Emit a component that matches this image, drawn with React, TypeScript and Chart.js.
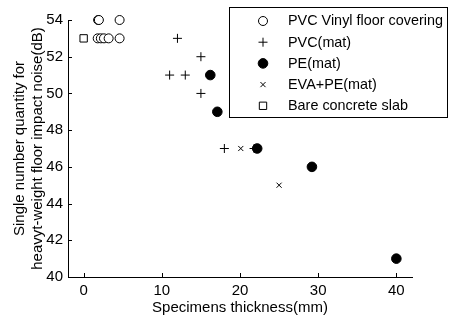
import React, { useEffect, useRef } from "react";
import { Chart, registerables } from "chart.js";
import { drawPoint } from "chart.js/helpers";

Chart.register(...registerables);

// Specimen thickness (mm) and single-number quantity (dB) per material group
const vinylThickness = [1.85, 1.95, 4.6, 1.8, 2.2, 2.6, 3.2, 4.6];
const vinylNoise = [54, 54, 54, 53, 53, 53, 53, 53];

const pvcMatThickness = [12, 15, 11, 13, 15, 18, 21.8];
const pvcMatNoise = [53, 52, 51, 51, 50, 47, 47];

const peMatThickness = [16.2, 17.1, 22.2, 29.2, 40];
const peMatNoise = [51, 49, 47, 46, 41];

const evaPeThickness = [20.1, 25];
const evaPeNoise = [47, 45];

const bareThickness = [0];
const bareNoise = [53];

const xTicks = [0, 10, 20, 30, 40];
const yTicks = [40, 42, 44, 46, 48, 50, 52, 54];

const seriesLabels = [
  "PVC Vinyl floor covering",
  "PVC(mat)",
  "PE(mat)",
  "EVA+PE(mat)",
  "Bare concrete slab",
];

const FONT = '"Liberation Sans", Arial, sans-serif';
const AXIS_FONT_SIZE = 15;
const LEGEND_FONT_SIZE = 14.4;

const toPoints = (xs: number[], ys: number[]) => xs.map((x, i) => ({ x, y: ys[i] }));

type MarkStyle = {
  pointStyle: string;
  radius: number;
  fill: string;
};

const markStyles: MarkStyle[] = [
  { pointStyle: "circle", radius: 4.5, fill: "#ffffff" },
  { pointStyle: "cross", radius: 4.5, fill: "#000000" },
  { pointStyle: "circle", radius: 4.8, fill: "#000000" },
  { pointStyle: "crossRot", radius: 3.6, fill: "#000000" },
  { pointStyle: "rect", radius: 5.2, fill: "#ffffff" },
];

// Inward tick marks on both axes
const innerTicksPlugin = {
  id: "innerTicks",
  afterDraw(chart: any) {
    const { ctx, chartArea, scales } = chart;
    ctx.save();
    ctx.strokeStyle = "#000";
    ctx.lineWidth = 1;
    ctx.beginPath();
    for (const v of yTicks) {
      const y = Math.round(scales.y.getPixelForValue(v)) + 0.5;
      ctx.moveTo(chartArea.left, y);
      ctx.lineTo(chartArea.left + 4, y);
    }
    for (const v of xTicks) {
      const x = Math.round(scales.x.getPixelForValue(v)) + 0.5;
      ctx.moveTo(x, chartArea.bottom);
      ctx.lineTo(x, chartArea.bottom - 4);
    }
    ctx.stroke();
    ctx.restore();
  },
};

// Boxed legend in the upper right corner
const boxLegendPlugin = {
  id: "boxLegend",
  afterDraw(chart: any) {
    const { ctx } = chart;
    const left = 229.5;
    const top = 7.5;
    const right = 447.5;
    const bottom = 117.5;
    ctx.save();
    ctx.fillStyle = "#fff";
    ctx.fillRect(left, top, right - left, bottom - top);
    ctx.strokeStyle = "#000";
    ctx.lineWidth = 1;
    ctx.strokeRect(left, top, right - left, bottom - top);
    ctx.font = `${LEGEND_FONT_SIZE}px ${FONT}`;
    ctx.textBaseline = "middle";
    ctx.textAlign = "left";
    seriesLabels.forEach((label, i) => {
      const y = 21 + i * 21.2;
      const st = markStyles[i];
      ctx.fillStyle = st.fill;
      ctx.strokeStyle = "#000";
      ctx.lineWidth = 1;
      drawPoint(ctx, { pointStyle: st.pointStyle as any, radius: st.radius, borderWidth: 1, rotation: 0 }, 263, y);
      ctx.fillStyle = "#000";
      ctx.fillText(label, 288, y + 0.5);
    });
    ctx.restore();
  },
};

export default function App() {
  const canvasRef = useRef<HTMLCanvasElement | null>(null);

  useEffect(() => {
    document.body.style.margin = "0";
    const canvas = canvasRef.current;
    if (!canvas) return;

    const seriesData = [
      toPoints(vinylThickness, vinylNoise),
      toPoints(pvcMatThickness, pvcMatNoise),
      toPoints(peMatThickness, peMatNoise),
      toPoints(evaPeThickness, evaPeNoise),
      toPoints(bareThickness, bareNoise),
    ];

    const chart = new Chart(canvas, {
      type: "scatter",
      data: {
        datasets: seriesData.map((data, i) => ({
          label: seriesLabels[i],
          data,
          pointStyle: markStyles[i].pointStyle as any,
          pointRadius: markStyles[i].radius,
          pointHoverRadius: markStyles[i].radius,
          pointBackgroundColor: markStyles[i].fill,
          pointBorderColor: "#000",
          pointBorderWidth: 1,
          backgroundColor: markStyles[i].fill,
          borderColor: "#000",
          showLine: false,
          clip: false as any,
        })),
      },
      options: {
        responsive: false,
        animation: false,
        events: [],
        layout: { padding: { top: 20, right: 40, left: 0, bottom: 0 } },
        plugins: {
          legend: { display: false },
          tooltip: { enabled: false },
        },
        scales: {
          x: {
            type: "linear",
            min: -2,
            max: 42,
            afterBuildTicks: (scale: any) => {
              scale.ticks = xTicks.map((value) => ({ value }));
            },
            afterFit: (scale: any) => {
              scale.height = 43;
            },
            grid: { display: true, drawOnChartArea: false, drawTicks: false },
            border: { display: true, color: "#000", width: 1 },
            ticks: {
              color: "#000",
              padding: 5,
              font: { family: FONT, size: AXIS_FONT_SIZE },
              maxRotation: 0,
            },
            title: {
              display: true,
              text: "Specimens thickness(mm)",
              color: "#000",
              font: { family: FONT, size: AXIS_FONT_SIZE, lineHeight: 1.15 },
              padding: { top: 0, bottom: 4 },
            },
          },
          y: {
            type: "linear",
            min: 40,
            max: 54,
            afterBuildTicks: (scale: any) => {
              scale.ticks = yTicks.map((value) => ({ value }));
            },
            afterFit: (scale: any) => {
              scale.width = 68;
            },
            grid: { display: true, drawOnChartArea: false, drawTicks: false },
            border: { display: true, color: "#000", width: 1 },
            ticks: {
              color: "#000",
              padding: 5,
              font: { family: FONT, size: AXIS_FONT_SIZE },
            },
            title: {
              display: true,
              text: ["Single number quantity for", "heavyt-weight floor impact noise(dB)"],
              color: "#000",
              font: { family: FONT, size: AXIS_FONT_SIZE, lineHeight: 1.15 },
              padding: { top: 11.5, bottom: 0 },
            },
          },
        },
      },
      plugins: [innerTicksPlugin, boxLegendPlugin],
    });

    return () => chart.destroy();
  }, []);

  return (
    <div style={{ width: 452, height: 320, background: "#fff" }}>
      <canvas ref={canvasRef} width={452} height={320} style={{ display: "block" }} />
    </div>
  );
}
